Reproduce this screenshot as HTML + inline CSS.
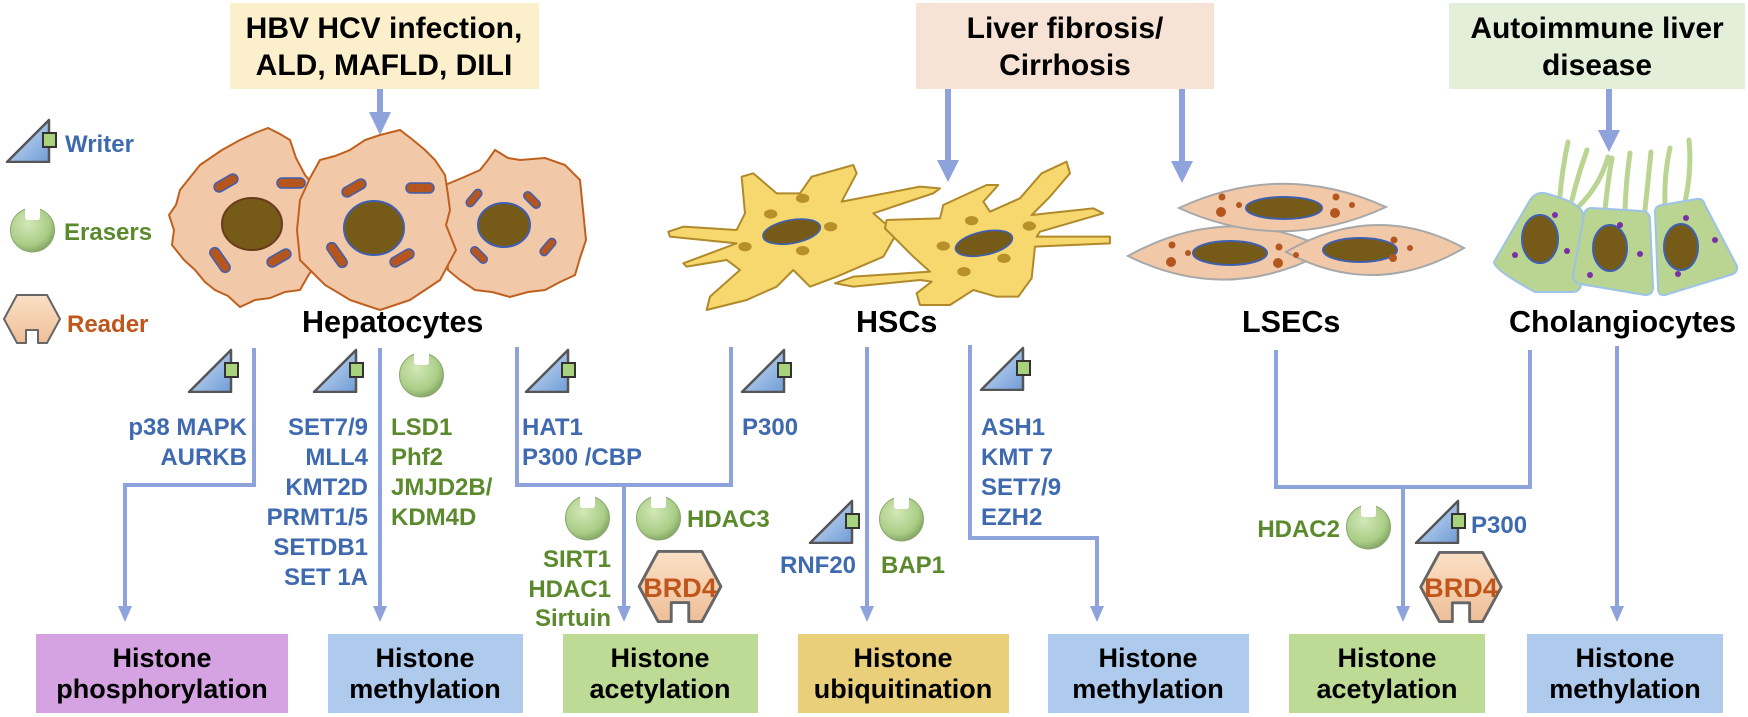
<!DOCTYPE html>
<html><head><meta charset="utf-8"><style>
html,body{margin:0;padding:0;background:#fff;}
svg{display:block;font-family:"Liberation Sans",Arial,sans-serif;font-weight:bold;}
.b{fill:#3f6ab0}.g{fill:#5b8a2d}.o{fill:#c0561b}
.t24{font-size:24px}
</style></head><body>
<svg width="1748" height="717" viewBox="0 0 1748 717" xmlns="http://www.w3.org/2000/svg">
<defs>
<linearGradient id="wg" x1="0" y1="0" x2="1" y2="1"><stop offset="0" stop-color="#d6e6f8"/><stop offset="1" stop-color="#6f9bd6"/></linearGradient>
<radialGradient id="eg" cx="0.4" cy="0.35" r="0.7"><stop offset="0" stop-color="#d3e8b8"/><stop offset="0.7" stop-color="#a9cd86"/><stop offset="1" stop-color="#7f9f60"/></radialGradient>
<linearGradient id="rg" x1="0" y1="0" x2="0" y2="1"><stop offset="0" stop-color="#fbe0c6"/><stop offset="1" stop-color="#eebf98"/></linearGradient>
<symbol id="wr" viewBox="0 0 53 45"><polygon points="2,44 44,2 44,44" fill="url(#wg)" stroke="#555" stroke-width="2.5" stroke-linejoin="round"/><rect x="38" y="15" width="13" height="14" fill="#a9d27c" stroke="#333" stroke-width="2"/></symbol>
<symbol id="er" viewBox="0 0 47 46"><circle cx="23.5" cy="23" r="22" fill="url(#eg)" stroke="#8aa870" stroke-width="1"/><path d="M16,0 V10 Q16,13 19,13 H28 Q31,13 31,10 V0 Z" fill="#fff"/></symbol>
<symbol id="rd" viewBox="0 0 58 50"><path d="M1,25 L14,1 H44 L57,25 L44,49 H35 V36 H23 V49 H14 Z" fill="url(#rg)" stroke="#666" stroke-width="2" stroke-linejoin="round"/></symbol>
</defs>

<!-- top boxes -->
<rect x="230" y="3" width="309" height="86" fill="#fcf0cc"/>
<rect x="916" y="3" width="298" height="86" fill="#f6e3d6"/>
<rect x="1449" y="3" width="296" height="86" fill="#e3efd8"/>
<g font-size="30" text-anchor="middle" fill="#000">
<text x="384" y="38">HBV HCV infection,</text><text x="384" y="75">ALD, MAFLD, DILI</text>
<text x="1065" y="38">Liver fibrosis/</text><text x="1065" y="75">Cirrhosis</text>
<text x="1597" y="38">Autoimmune liver</text><text x="1597" y="75">disease</text>
</g>
<!-- top arrows -->
<g stroke="#8ea3dc" stroke-width="6" fill="#8ea3dc">
<line x1="380" y1="89" x2="380" y2="115"/><line x1="948" y1="89" x2="948" y2="162"/><line x1="1182" y1="89" x2="1182" y2="163"/><line x1="1609" y1="89" x2="1609" y2="132"/>
</g>
<g fill="#8ea3dc">
<polygon points="369,112 391,112 380,135"/><polygon points="937,160 959,160 948,182"/><polygon points="1171,161 1193,161 1182,183"/><polygon points="1598,130 1620,130 1609,152"/>
</g>

<!-- legend -->
<use href="#wr" x="5" y="118" width="53" height="45"/>
<use href="#er" x="9" y="207" width="47" height="46"/>
<use href="#rd" x="3" y="294" width="58" height="50"/>
<text x="65" y="152" class="b t24">Writer</text>
<text x="64" y="240" class="g t24">Erasers</text>
<text x="67" y="332" class="o t24">Reader</text>

<!-- hepatocytes -->
<g fill="#f2c9a8" stroke="#c0601e" stroke-width="2" stroke-linejoin="miter">
<path d="M200,165 L222,150 L240,140 L255,133 L268,128 L280,134 L290,140 L296,158 L305,175 L318,190 L312,205 L310,230 L316,245 L318,260 L308,276 L300,290 L285,292 L270,298 L255,300 L240,307 L228,296 L215,290 L205,282 L195,270 L184,260 L172,245 L174,230 L169,215 L176,205 L180,190 Z"/>
<path d="M445,185 L462,178 L480,170 L488,160 L495,150 L508,158 L520,160 L545,158 L565,165 L580,180 L583,210 L586,240 L580,258 L575,275 L560,282 L545,290 L528,292 L510,297 L492,292 L475,290 L460,280 L448,270 L446,250 L440,230 L444,208 Z"/>
<path d="M300,200 L310,178 L320,160 L335,156 L350,150 L365,140 L380,135 L392,132 L400,130 L413,140 L425,150 L435,160 L445,175 L448,195 L450,210 L446,225 L452,240 L456,250 L448,265 L440,280 L425,290 L410,300 L395,305 L380,310 L365,305 L350,300 L337,292 L325,285 L312,272 L300,260 L297,230 Z"/>
</g>
<g fill="#765b18">
<ellipse cx="252" cy="224" rx="30" ry="26" stroke="#6b3a1a" stroke-width="2"/>
<ellipse cx="374" cy="228" rx="30" ry="27" stroke="#3f5fb0" stroke-width="2"/>
<ellipse cx="504" cy="225" rx="26" ry="22" stroke="#3f5fb0" stroke-width="2"/>
</g>
<g fill="#b5561f" stroke="#3f5fb0" stroke-width="1.5">
<rect x="-13" y="-5" width="26" height="10" rx="5" transform="translate(226,183) rotate(-30)"/>
<rect x="-14" y="-5" width="28" height="10" rx="5" transform="translate(291,183)"/>
<rect x="-14" y="-5" width="28" height="10" rx="5" transform="translate(220,260) rotate(55)"/>
<rect x="-13" y="-5" width="26" height="10" rx="5" transform="translate(279,258) rotate(-30)"/>
<rect x="-13" y="-5" width="26" height="10" rx="5" transform="translate(354,188) rotate(-30)"/>
<rect x="-14" y="-5" width="28" height="10" rx="5" transform="translate(420,188)"/>
<rect x="-14" y="-5" width="28" height="10" rx="5" transform="translate(337,255) rotate(55)"/>
<rect x="-13" y="-5" width="26" height="10" rx="5" transform="translate(402,258) rotate(-30)"/>
<rect x="-10" y="-4" width="20" height="8" rx="4" transform="translate(474,198) rotate(-50)"/>
<rect x="-10" y="-4" width="20" height="8" rx="4" transform="translate(532,200) rotate(45)"/>
<rect x="-10" y="-4" width="20" height="8" rx="4" transform="translate(479,255) rotate(45)"/>
<rect x="-10" y="-4" width="20" height="8" rx="4" transform="translate(548,247) rotate(-50)"/>
</g>

<!-- HSCs -->
<g transform="translate(620,130) scale(0.3333)">
<g fill="#f7d86f" stroke="#b08a2a" stroke-width="6" stroke-linejoin="round">
<path d="M145,305 L190,290 L350,300 L375,250 L365,140 L400,130 L470,190 L540,190 L575,140 L700,105 L710,130 L665,215 L900,170 L960,175 L940,190 L760,250 L830,310 L790,380 L650,440 L570,470 L520,420 L470,470 L380,510 L260,540 L270,500 L360,420 L320,390 L200,410 L190,400 L350,340 L150,320 Z"/>
<path d="M645,460 L700,440 L930,425 L880,380 L840,340 L795,295 L800,270 L960,265 L970,225 L1100,165 L1135,165 L1090,215 L1110,245 L1200,205 L1265,130 L1340,95 L1350,130 L1290,200 L1235,255 L1420,235 L1450,250 L1260,305 L1250,320 L1470,320 L1470,340 L1245,350 L1235,445 L1195,500 L1130,500 L1060,480 L990,525 L900,525 L890,490 L935,455 L900,450 L700,470 Z"/>
</g>
<g fill="#b8902a">
<ellipse cx="548" cy="205" rx="20" ry="14"/><ellipse cx="452" cy="252" rx="20" ry="14"/><ellipse cx="632" cy="290" rx="20" ry="14"/><ellipse cx="375" cy="350" rx="20" ry="14"/><ellipse cx="548" cy="362" rx="20" ry="14"/>
<ellipse cx="1055" cy="272" rx="20" ry="14"/><ellipse cx="970" cy="348" rx="20" ry="14"/><ellipse cx="1228" cy="288" rx="20" ry="14"/><ellipse cx="1152" cy="385" rx="20" ry="14"/><ellipse cx="1032" cy="425" rx="20" ry="14"/>
</g>
<g fill="#765b18" stroke="#3f5fb0" stroke-width="5">
<ellipse cx="515" cy="305" rx="87" ry="35" transform="rotate(-10 515 305)"/>
<ellipse cx="1092" cy="340" rx="87" ry="35" transform="rotate(-12 1092 340)"/>
</g>
</g>

<!-- LSECs -->
<g fill="#f2c9a8" stroke="#a8a8a8" stroke-width="2">
<path d="M1128,256 Q1229,200 1329,250 Q1229,306 1128,256 Z"/>
<path d="M1286,252 Q1375,200 1464,248 Q1375,300 1286,252 Z"/>
<path d="M1179,208 Q1282,160 1386,207 Q1282,255 1179,208 Z"/>
</g>
<g fill="#765b18" stroke="#3f5fb0" stroke-width="2">
<ellipse cx="1284" cy="208" rx="38" ry="11"/><ellipse cx="1230" cy="253" rx="37" ry="12"/><ellipse cx="1360" cy="250" rx="37" ry="12"/>
</g>
<g fill="#b5561f">
<circle cx="1222" cy="197" r="3.5"/><circle cx="1221" cy="212" r="5"/><circle cx="1239" cy="205" r="3"/><circle cx="1336" cy="197" r="3.5"/><circle cx="1335" cy="213" r="5"/><circle cx="1352" cy="205" r="3"/>
<circle cx="1172" cy="245" r="3.5"/><circle cx="1171" cy="262" r="5"/><circle cx="1188" cy="253" r="3"/><circle cx="1279" cy="247" r="3.5"/><circle cx="1278" cy="263" r="5"/><circle cx="1296" cy="255" r="3"/>
<circle cx="1394" cy="240" r="3.5"/><circle cx="1393" cy="258" r="4"/><circle cx="1410" cy="248" r="3"/>
</g>

<!-- Cholangiocytes -->
<g fill="none" stroke="#b9d591" stroke-width="5" stroke-linecap="round">
<path d="M1560,196 Q1562,170 1568,142"/><path d="M1572,200 Q1578,175 1587,150"/><path d="M1580,205 Q1600,185 1608,157"/>
<path d="M1605,210 Q1608,180 1612,158"/><path d="M1625,210 Q1626,180 1630,153"/><path d="M1645,210 Q1648,180 1651,152"/>
<path d="M1665,204 Q1664,175 1670,148"/><path d="M1685,202 Q1692,170 1689,140"/>
</g>
<g fill="#b9d591" stroke="#9dc3e6" stroke-width="2" stroke-linejoin="round">
<path d="M1544,193 Q1583,203 1583,215 L1581,285 Q1580,292 1572,292 L1535,292 Q1494,270 1494,262 L1530,200 Q1536,192 1544,193 Z"/>
<path d="M1592,208 L1642,211 Q1650,212 1650,220 L1653,287 Q1653,295 1645,295 L1580,284 Q1573,282 1573,275 L1584,215 Q1585,208 1592,208 Z"/>
<path d="M1662,205 L1697,199 Q1703,198 1705,205 L1737,266 Q1738,273 1730,275 L1665,295 Q1658,296 1658,288 L1655,212 Q1655,206 1662,205 Z"/>
</g>
<g fill="#765b18" stroke="#3f5fb0" stroke-width="2">
<ellipse cx="1540" cy="239" rx="18" ry="24"/><ellipse cx="1610" cy="248" rx="17" ry="23"/><ellipse cx="1681" cy="247" rx="17" ry="23"/>
</g>
<g fill="#7b2fa6">
<circle cx="1555" cy="215" r="3"/><circle cx="1515" cy="255" r="3"/><circle cx="1567" cy="251" r="3"/>
<circle cx="1620" cy="225" r="3"/><circle cx="1590" cy="275" r="3"/><circle cx="1640" cy="254" r="3"/>
<circle cx="1686" cy="218" r="3"/><circle cx="1715" cy="240" r="3"/><circle cx="1678" cy="274" r="3"/>
</g>

<!-- cell labels -->
<g font-size="30.5" fill="#000">
<text x="302" y="332">Hepatocytes</text><text x="856" y="332">HSCs</text><text x="1242" y="332">LSECs</text><text x="1509" y="332">Cholangiocytes</text>
</g>

<!-- connectors -->
<g fill="none" stroke="#8ea3dc" stroke-width="4">
<path d="M254,348 V485 H125 V612"/>
<path d="M380,348 V612"/>
<path d="M517,347 V485 H731 V347"/><path d="M624,485 V612"/>
<path d="M867,347 V612"/>
<path d="M970,345 V538 H1097 V612"/>
<path d="M1276,350 V487 H1530 V350"/><path d="M1403,487 V612"/>
<path d="M1617,346 V612"/>
</g>
<g fill="#8ea3dc">
<polygon points="118,606 132,606 125,622"/><polygon points="373,606 387,606 380,622"/><polygon points="617,606 631,606 624,622"/>
<polygon points="860,606 874,606 867,622"/><polygon points="1090,606 1104,606 1097,622"/><polygon points="1396,606 1410,606 1403,622"/><polygon points="1610,606 1624,606 1617,622"/>
</g>

<!-- icons -->
<use href="#wr" x="187" y="348" width="53" height="45"/>
<use href="#wr" x="312" y="348" width="53" height="45"/>
<use href="#wr" x="524" y="348" width="53" height="45"/>
<use href="#wr" x="740" y="348" width="53" height="45"/>
<use href="#wr" x="979" y="346" width="53" height="45"/>
<use href="#wr" x="808" y="499" width="53" height="45"/>
<use href="#wr" x="1414" y="499" width="53" height="45"/>
<use href="#er" x="398" y="352" width="47" height="46"/>
<use href="#er" x="564" y="495" width="47" height="46"/>
<use href="#er" x="635" y="495" width="47" height="46"/>
<use href="#er" x="878" y="496" width="47" height="46"/>
<use href="#er" x="1345" y="504" width="47" height="46"/>
<use href="#rd" x="631" y="550" width="98" height="73" preserveAspectRatio="none"/>
<use href="#rd" x="1413" y="551" width="96" height="72" preserveAspectRatio="none"/>
<text x="680" y="597" font-size="27" class="o" text-anchor="middle">BRD4</text>
<text x="1461" y="597" font-size="27" class="o" text-anchor="middle">BRD4</text>

<!-- enzyme labels -->
<g class="t24">
<g class="b" text-anchor="end"><text x="247" y="435">p38 MAPK</text><text x="247" y="465">AURKB</text>
<text x="368" y="435">SET7/9</text><text x="368" y="465">MLL4</text><text x="368" y="495">KMT2D</text><text x="368" y="525">PRMT1/5</text><text x="368" y="555">SETDB1</text><text x="368" y="585">SET 1A</text></g>
<g class="g"><text x="391" y="435">LSD1</text><text x="391" y="465">Phf2</text><text x="391" y="495">JMJD2B/</text><text x="391" y="525">KDM4D</text></g>
<g class="b"><text x="522" y="435">HAT1</text><text x="522" y="465">P300 /CBP</text><text x="742" y="435">P300</text>
<text x="780" y="573">RNF20</text>
<text x="981" y="435">ASH1</text><text x="981" y="465">KMT 7</text><text x="981" y="495">SET7/9</text><text x="981" y="525">EZH2</text>
<text x="1471" y="533">P300</text></g>
<g class="g" text-anchor="end"><text x="611" y="567">SIRT1</text><text x="611" y="597">HDAC1</text><text x="611" y="626">Sirtuin</text><text x="1340" y="537">HDAC2</text></g>
<g class="g"><text x="687" y="527">HDAC3</text><text x="881" y="573">BAP1</text></g>
</g>

<!-- bottom boxes -->
<rect x="36" y="634" width="252" height="79" fill="#d5a3e2"/>
<rect x="328" y="634" width="195" height="79" fill="#aecbee"/>
<rect x="563" y="634" width="195" height="79" fill="#bedb96"/>
<rect x="798" y="634" width="211" height="79" fill="#e9cf7a"/>
<rect x="1048" y="634" width="201" height="79" fill="#aecbee"/>
<rect x="1289" y="634" width="196" height="79" fill="#bedb96"/>
<rect x="1527" y="634" width="196" height="79" fill="#aecbee"/>
<g font-size="27" text-anchor="middle" fill="#000">
<text x="162" y="667">Histone</text><text x="162" y="698">phosphorylation</text>
<text x="425" y="667">Histone</text><text x="425" y="698">methylation</text>
<text x="660" y="667">Histone</text><text x="660" y="698">acetylation</text>
<text x="903" y="667">Histone</text><text x="903" y="698">ubiquitination</text>
<text x="1148" y="667">Histone</text><text x="1148" y="698">methylation</text>
<text x="1387" y="667">Histone</text><text x="1387" y="698">acetylation</text>
<text x="1625" y="667">Histone</text><text x="1625" y="698">methylation</text>
</g>
</svg>
</body></html>
